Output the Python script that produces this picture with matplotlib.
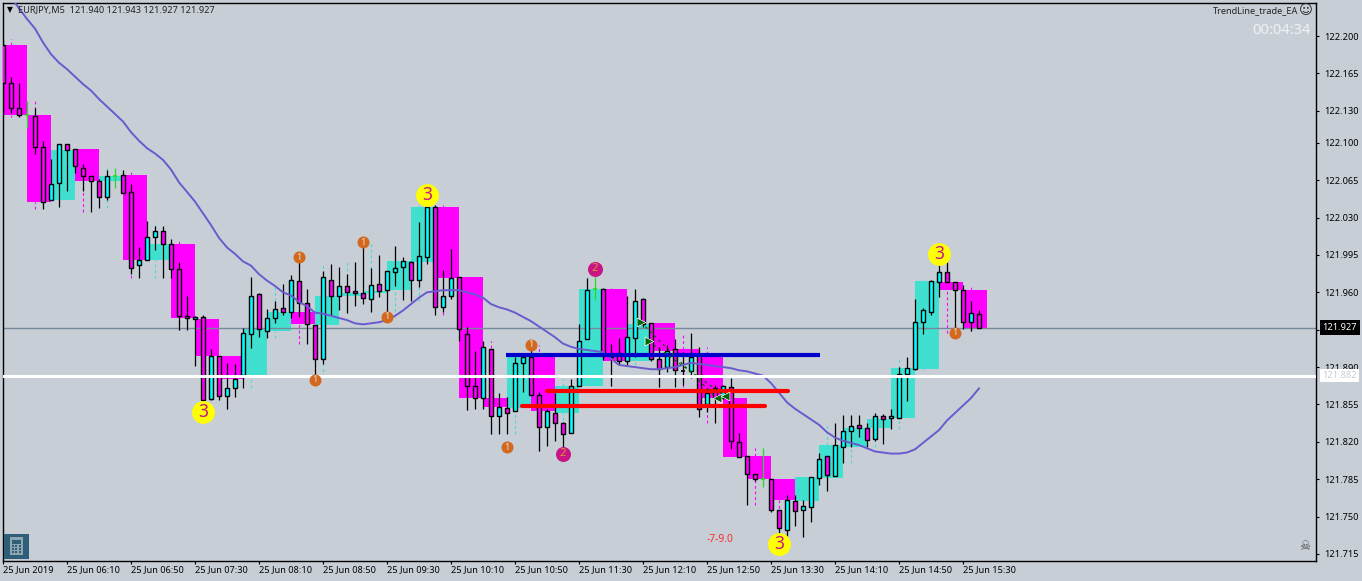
import matplotlib
matplotlib.use('Agg')
import matplotlib.pyplot as plt
from matplotlib.patches import Rectangle
import numpy as np

# M5 candles, one row of ten per line
opens = [122.192,122.156,122.133,122.126,122.125,122.096,122.046,122.062,122.099,122.094,
         122.076,122.069,122.064,122.049,122.069,122.070,122.054,121.986,121.990,122.012,
         122.017,122.005,121.982,121.938,121.935,121.937,121.860,121.900,121.863,121.870,
         121.883,121.921,121.958,121.924,121.936,121.945,121.942,121.971,121.950,121.929,
         121.898,121.972,121.957,121.966,121.961,121.959,121.954,121.968,121.962,121.979,
         121.984,121.988,121.972,121.993,122.040,121.946,121.957,121.974,121.921,121.872,
         121.861,121.907,121.844,121.852,121.849,121.894,121.899,121.864,121.834,121.847,
         121.838,121.828,121.872,121.916,121.963,121.963,121.900,121.903,121.896,121.917,
         121.954,121.931,121.898,121.890,121.907,121.886,121.886,121.902,121.855,121.870,
         121.861,121.871,121.820,121.807,121.790,121.785,121.785,121.756,121.737,121.765,
         121.756,121.759,121.786,121.807,121.788,121.815,121.830,121.836,121.833,121.823,
         121.844,121.842,121.842,121.884,121.888,121.932,121.942,121.970,121.979,121.970,
         121.962,121.932,121.940]
highs = [122.197,122.162,122.156,122.139,122.133,122.102,122.085,122.099,122.099,122.094,
         122.080,122.069,122.066,122.075,122.076,122.075,122.061,122.002,122.027,122.022,
         122.022,122.010,121.988,121.957,121.938,121.939,121.907,121.900,121.894,121.893,
         121.927,121.974,121.959,121.944,121.952,121.968,121.976,121.993,121.963,121.929,
         121.980,121.987,121.984,121.977,121.988,122.006,121.983,121.995,121.980,122.003,
         121.993,121.989,122.026,122.042,122.042,121.981,122.001,121.974,121.928,121.905,
         121.914,121.907,121.866,121.862,121.899,121.901,121.911,121.867,121.851,121.866,
         121.839,121.879,121.930,121.973,121.974,121.964,121.912,121.917,121.957,121.963,
         121.955,121.931,121.909,121.911,121.916,121.904,121.922,121.909,121.870,121.873,
         121.873,121.880,121.828,121.807,121.790,121.814,121.785,121.756,121.770,121.770,
         121.766,121.787,121.810,121.807,121.838,121.845,121.845,121.845,121.838,121.847,
         121.846,121.851,121.890,121.899,121.954,121.945,121.972,121.987,121.988,121.970,
         121.967,121.952,121.943]
lows = [122.128,122.128,122.124,122.114,122.090,122.038,122.046,122.040,122.055,122.072,
        122.055,122.035,122.039,122.046,122.058,122.053,121.977,121.973,121.990,122.000,
        121.973,121.973,121.925,121.925,121.891,121.856,121.859,121.859,121.851,121.862,
        121.870,121.908,121.918,121.917,121.931,121.939,121.936,121.937,121.912,121.881,
        121.893,121.939,121.943,121.941,121.947,121.949,121.942,121.956,121.937,121.966,
        121.953,121.952,121.965,121.987,121.939,121.942,121.954,121.914,121.850,121.851,
        121.851,121.827,121.827,121.827,121.849,121.867,121.864,121.811,121.816,121.821,
        121.814,121.828,121.872,121.916,121.953,121.897,121.872,121.892,121.892,121.899,
        121.928,121.896,121.871,121.885,121.871,121.873,121.880,121.843,121.848,121.838,
        121.860,121.813,121.806,121.761,121.783,121.778,121.754,121.735,121.732,121.741,
        121.731,121.745,121.780,121.774,121.788,121.800,121.815,121.825,121.815,121.821,
        121.818,121.832,121.842,121.858,121.887,121.921,121.939,121.956,121.970,121.922,
        121.926,121.924,121.927]
closes = [122.156,122.133,122.126,122.126,122.096,122.045,122.061,122.099,122.093,122.078,
          122.069,122.064,122.049,122.069,122.069,122.053,121.983,121.990,122.012,122.017,
          122.005,121.982,121.938,121.936,121.937,121.859,121.900,121.863,121.870,121.879,
          121.922,121.957,121.926,121.936,121.944,121.942,121.972,121.950,121.930,121.898,
          121.974,121.957,121.966,121.960,121.959,121.955,121.967,121.961,121.980,121.983,
          121.989,121.972,121.994,122.040,121.946,121.957,121.973,121.926,121.872,121.861,
          121.909,121.844,121.853,121.847,121.894,121.899,121.864,121.834,121.849,121.838,
          121.827,121.872,121.914,121.962,121.963,121.900,121.899,121.896,121.918,121.952,
          121.930,121.898,121.888,121.905,121.887,121.886,121.899,121.851,121.866,121.861,
          121.872,121.821,121.806,121.790,121.785,121.785,121.756,121.739,121.766,121.755,
          121.760,121.787,121.804,121.789,121.817,121.830,121.835,121.833,121.822,121.844,
          121.841,121.844,121.884,121.889,121.932,121.943,121.971,121.979,121.970,121.962,
          121.932,121.941,121.927]

# moving average, starts at candle 1
ma_values = [122.236,122.226,122.216,122.207,122.194,122.183,122.175,122.169,122.162,122.155,
             122.149,122.141,122.134,122.127,122.120,122.110,122.102,122.095,122.090,122.084,
             122.075,122.063,122.054,122.045,122.034,122.023,122.011,122.002,121.996,121.989,
             121.985,121.977,121.971,121.966,121.960,121.957,121.951,121.947,121.941,121.940,
             121.938,121.936,121.934,121.931,121.930,121.931,121.932,121.934,121.938,121.943,
             121.949,121.955,121.960,121.961,121.962,121.962,121.962,121.960,121.958,121.955,
             121.949,121.946,121.944,121.941,121.937,121.933,121.928,121.923,121.918,121.912,
             121.909,121.907,121.906,121.905,121.904,121.898,121.892,121.891,121.890,121.889,
             121.888,121.888,121.889,121.890,121.892,121.894,121.893,121.892,121.891,121.890,
             121.889,121.887,121.886,121.884,121.882,121.875,121.866,121.857,121.851,121.846,
             121.841,121.836,121.829,121.824,121.821,121.819,121.817,121.814,121.811,121.810,
             121.809,121.809,121.810,121.813,121.819,121.825,121.831,121.840,121.847,121.854,
             121.861,121.870]

lime_doji = [3, 14, 74, 95]

time_labels = ['25 Jun 2019','25 Jun 06:10','25 Jun 06:50','25 Jun 07:30','25 Jun 08:10','25 Jun 08:50',
               '25 Jun 09:30','25 Jun 10:10','25 Jun 10:50','25 Jun 11:30','25 Jun 12:10','25 Jun 12:50',
               '25 Jun 13:30','25 Jun 14:10','25 Jun 14:50','25 Jun 15:30']
price_ticks = [122.200,122.165,122.130,122.100,122.065,122.030,121.995,121.960,121.925,
               121.890,121.855,121.820,121.785,121.750,121.715]

bid_price = 121.927
white_price = 121.882
blue_level = [62.9, 102.1, 121.901]
red_levels = [[68.0, 98.1, 121.868], [64.9, 95.25, 121.854]]

one_idx = [37, 45, 48, 39, 66, 63, 119]
one_price = [121.993, 122.007, 121.937, 121.878, 121.911, 121.815, 121.922]
two_idx = [74, 70]
two_price = [121.982, 121.809]
three_idx = [25, 53, 97, 117]
three_price = [121.848, 122.051, 121.724, 121.996]

trade_in_idx = [79.75, 80.7]
trade_in_price = [121.932, 121.914]
trade_out_idx = [89.2, 90.25]
trade_out_price = [121.861, 121.863]

BG = '#C7CED6'
MAGENTA = '#FF00FF'
TURQ = '#40E0D0'
CYAN = '#00FFFF'
LIME = '#22DD22'
FONT = 'Noto Sans'
W, H = 1362, 581

plt.rcParams['font.family'] = FONT
fig = plt.figure(figsize=(W / 100, H / 100), dpi=100, facecolor=BG)
ax = fig.add_axes([2.5 / W, (H - 560.5) / H, 1314 / W, 558 / H], facecolor=BG)
ax.set_xlim(-0.0625, 164.19)
ax.set_ylim(121.7089, 122.2314)

n = len(opens)
idx = np.arange(n)
o = np.array(opens)
c = np.array(closes)
h = np.array(highs)
l = np.array(lows)

# 15 minute boxes and their dashed wicks, made from each three candles
for i in range(0, n, 3):
    box_open = o[i]
    box_close = c[min(i + 2, n - 1)]
    box_high = h[i:i + 3].max()
    box_low = l[i:i + 3].min()
    col = TURQ if box_close >= box_open else MAGENTA
    ax.bar(i, abs(box_close - box_open), bottom=min(box_open, box_close), width=3, align='edge',
           color=col, linewidth=0, zorder=1)
    ax.vlines(i + 1, max(box_open, box_close), box_high, color=col, lw=0.8,
              linestyles=(0, (2.5, 2.5)), zorder=2)
    ax.vlines(i + 1, box_low, min(box_open, box_close), color=col, lw=0.8,
              linestyles=(0, (2.5, 2.5)), zorder=2)

ax.axhline(bid_price, color='#778899', lw=1.0, zorder=2.5)

# candles
wick_cols = [LIME if i in lime_doji else 'black' for i in idx]
ax.vlines(idx, l, h, colors=wick_cols, lw=0.9, zorder=3)
up = c > o
down = c < o
ax.bar(idx[up], (c - o)[up], bottom=o[up], width=0.5, color=CYAN, edgecolor='black', linewidth=1.0, zorder=3.2)
ax.bar(idx[down], (o - c)[down], bottom=c[down], width=0.5, color=MAGENTA, edgecolor='black', linewidth=1.0, zorder=3.2)
flat = c == o
ax.hlines(o[flat], idx[flat] - 0.3, idx[flat] + 0.3, colors=[LIME if i in lime_doji else 'black' for i in idx[flat]],
          lw=1.2, zorder=3.2)

ax.plot(np.arange(1, len(ma_values) + 1), ma_values, color='#6A5ACD', lw=1.4, zorder=4)

# drawn levels
ax.plot(blue_level[:2], [blue_level[2]] * 2, color='#0000CC', lw=3.0, solid_capstyle='butt', zorder=5)
for lev in red_levels:
    ax.plot(lev[:2], [lev[2]] * 2, color='#FF0000', lw=3.0, solid_capstyle='round', zorder=5)
ax.axhline(white_price, color='white', lw=2.2, zorder=6)

# trade arrows
for k in range(2):
    ax.plot([trade_in_idx[k], trade_out_idx[k]], [trade_in_price[k], trade_out_price[k]],
            color='#006400', lw=0.9, linestyle=(0, (2, 3)), zorder=5.5)
ax.scatter(trade_in_idx, trade_in_price, marker='>', s=40, color='#006400', edgecolor='white', linewidth=0.5, zorder=7)
ax.scatter(trade_out_idx, trade_out_price, marker='<', s=40, color='#006400', edgecolor='white', linewidth=0.5, zorder=7)

# numbered signal circles
ax.scatter(one_idx, one_price, s=75, color='#D2691E', linewidth=0, zorder=7)
for x, y in zip(one_idx, one_price):
    ax.text(x, y, '1', ha='center', va='center', fontsize=6.5, color='#E8E0D8', zorder=8)
ax.scatter(two_idx, two_price, s=117, color='#C71585', linewidth=0, zorder=7)
for x, y in zip(two_idx, two_price):
    ax.text(x, y, '2', ha='center', va='center', fontsize=8, color='#E0903A', zorder=8)
ax.scatter(three_idx, three_price, s=270, color='#FFFF00', linewidth=0, zorder=7)
for x, y in zip(three_idx, three_price):
    ax.text(x, y, '3', ha='center', va='center', fontsize=12.5, color='#C71585', zorder=8)

# axes and ticks
for side in ax.spines:
    ax.spines[side].set_linewidth(1.0)
    ax.spines[side].set_color('black')
ax.yaxis.tick_right()
ax.set_yticks(price_ticks)
ax.set_yticklabels(['%.3f' % p for p in price_ticks])
ax.set_xticks(np.arange(0, 8 * len(time_labels), 8))
ax.set_xticklabels(time_labels, ha='left')
ax.tick_params(axis='y', length=2, width=0.8, pad=3.5, labelsize=6.6, colors='black')
ax.tick_params(axis='x', length=2, width=0.8, pad=1.5, labelsize=6.6, colors='black')

# price tags on the right
ytrans = ax.get_yaxis_transform()
tag_x = 1 + 6.0 / 1314
ax.text(tag_x, bid_price, '%.3f' % bid_price, transform=ytrans, clip_on=False, ha='left', va='center',
        fontsize=6.6, color='white', bbox=dict(fc='black', ec='none', pad=2.0), zorder=20)
ax.text(tag_x, white_price, '%.3f' % white_price, transform=ytrans, clip_on=False, ha='left', va='center',
        fontsize=6.6, color='#C7CED6', bbox=dict(fc='white', ec='none', pad=1.5), zorder=20)

# header and corner labels
fig.text(10 / W, 1 - 10 / H, '\u25BC', ha='center', va='center', fontsize=5.5, color='black', family='DejaVu Sans')
fig.text(18 / W, 1 - 10 / H, 'EURJPY,M5  121.940 121.943 121.927 121.927', ha='left', va='center', fontsize=6.6, color='#222222')
fig.text(1298 / W, 1 - 11 / H, 'TrendLine_trade_EA', ha='right', va='center', fontsize=6.6, color='#222222')
fig.text(1306 / W, 1 - 11 / H, '\u263A', ha='center', va='center', fontsize=9.5, color='#222222', family='DejaVu Sans')
fig.text(1311 / W, 1 - 31 / H, '00:04:34', ha='right', va='center', fontsize=10.6, color='#F0F3F5')
ax.text(89.6, 121.729, '-7-9.0', ha='center', va='center', fontsize=7.4, color='#FF2A2A', zorder=8)
fig.text(1305 / W, 1 - 546 / H, '\u2620', ha='center', va='center', fontsize=9, color='#555555', family='DejaVu Sans')

# calculator button
fig.add_artist(Rectangle((4 / W, 1 - 559 / H), 25 / W, 25 / H, transform=fig.transFigure, fc='#2F5F78', ec='none'))
fig.add_artist(Rectangle((10 / W, 1 - 555 / H), 13 / W, 18 / H, transform=fig.transFigure, fc='#8EA6B2', ec='none'))
fig.add_artist(Rectangle((12 / W, 1 - 544 / H), 9 / W, 4 / H, transform=fig.transFigure, fc='#2F5F78', ec='none'))
for row in range(3):
    for col in range(3):
        fig.add_artist(Rectangle(((11.5 + col * 3.6) / W, 1 - (547 + row * 2.8) / H), 2.2 / W, 1.6 / H,
                                 transform=fig.transFigure, fc='#2F5F78', ec='none'))

fig.savefig('out.png', dpi=100, facecolor=BG)
